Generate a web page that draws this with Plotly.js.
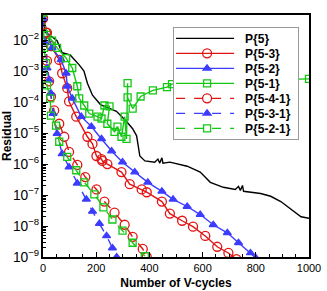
<!DOCTYPE html>
<html><head><meta charset="utf-8">
<script src="https://cdn.plot.ly/plotly-3.0.1.min.js"></script>
<style>html,body{margin:0;padding:0;background:#fff}#chart{width:327px;height:291px}</style>
</head><body><div id="chart"></div>
<script>
// values are log10(residual)
const p5_x = [0, 8, 22, 53, 72, 102, 136, 154, 167, 186, 216, 276, 314, 337, 352, 364, 383, 420, 432, 439, 447, 451, 477, 542, 591, 629, 678, 723, 735, 742, 750, 754, 818, 856, 894, 932, 970, 1000];
const p5_y = [-1.25, -1.75, -1.82, -2.02, -2.41, -2.48, -2.80, -3.0, -3.39, -3.78, -4.08, -4.30, -4.63, -4.86, -5.09, -5.74, -5.90, -5.94, -5.84, -5.97, -5.80, -5.97, -5.94, -6.07, -6.26, -6.59, -6.75, -6.82, -6.72, -6.85, -6.69, -6.88, -6.95, -7.04, -7.21, -7.47, -7.70, -7.75];

const p53_x = [0, 15, 30, 61, 72, 91, 98, 125, 167, 186, 201, 220, 223, 242, 295, 326, 371, 390, 447, 477, 523, 564, 610, 655, 697, 727];
const p53_y = [-1.3, -1.76, -2.19, -2.64, -3.07, -3.55, -3.98, -4.47, -5.12, -5.35, -5.74, -5.84, -5.90, -6.0, -6.26, -6.65, -6.82, -6.91, -7.21, -7.60, -7.83, -8.02, -8.32, -8.67, -8.87, -9.07];

const p52_x = [0, 34, 68, 87, 91, 110, 144, 182, 220, 258, 299, 345, 394, 447, 489, 542, 591, 640, 693, 735, 780, 800];
const p52_y = [-1.3, -2.25, -2.64, -3.07, -3.49, -3.88, -4.47, -4.79, -5.19, -5.58, -5.94, -6.26, -6.59, -6.88, -7.14, -7.37, -7.63, -7.96, -8.22, -8.54, -8.87, -9.03];

const p51_x = [0, 15, 34, 53, 87, 110, 129, 136, 155, 174, 205, 220, 231, 250, 242, 269, 280, 295, 307, 314, 318, 318, 337, 367, 413, 466, 485, 600, 750, 900, 1000];
const p51_y = [-1.11, -1.83, -2.02, -2.25, -2.58, -2.90, -3.49, -3.88, -4.11, -4.37, -4.47, -4.53, -4.11, -4.14, -4.70, -4.96, -4.79, -5.12, -4.47, -5.19, -3.39, -3.85, -4.21, -3.82, -3.62, -3.52, -3.42, -3.36, -3.3, -3.27, -3.25];

const p541_x = [0, 11, 15, 23, 30, 42, 61, 80, 98, 129, 159, 201, 231, 269, 307, 337, 375, 390];
const p541_y = [-1.3, -1.76, -2.67, -3.33, -3.82, -4.27, -4.70, -5.12, -5.61, -6.03, -6.42, -6.82, -7.21, -7.57, -7.96, -8.35, -8.74, -9.0];

const p531_x = [0, 8, 15, 23, 30, 38, 53, 72, 98, 129, 163, 186, 212, 239, 261, 277];
const p531_y = [-1.3, -2.09, -2.90, -3.29, -3.72, -4.37, -5.02, -5.67, -6.10, -6.62, -7.14, -7.53, -7.92, -8.32, -8.71, -9.0];

const p521_x = [0, 4, 11, 15, 27, 30, 49, 61, 91, 125, 155, 193, 227, 261, 299, 337, 383];
const p521_y = [-1.11, -2.25, -2.74, -3.46, -3.88, -4.44, -4.76, -5.28, -5.77, -6.20, -6.59, -6.98, -7.40, -7.79, -8.15, -8.54, -8.97];

const names = ['P{5}', 'P{5-3}', 'P{5-2}', 'P{5-1}', 'P{5-4-1}', 'P{5-3-1}', 'P{5-2-1}'];
const xTicks = [0, 200, 400, 600, 800, 1000];

const RED = 'rgb(225,20,20)', BLUE = 'rgb(60,60,255)', GREEN = 'rgb(20,200,20)';
const toVal = a => a.map(v => Math.pow(10, v));

function tr(x, y, name, color, dash, sym) {
  const t = {x: x, y: toVal(y), name: '<b>' + name + '</b>', type: 'scatter',
    line: {color: color, width: 1.4, dash: dash}};
  if (sym) {
    t.mode = 'lines+markers';
    t.marker = {symbol: sym, size: sym === 'circle-open' ? 9 : 7, color: color,
      line: {color: color, width: 1.3}};
  } else t.mode = 'lines';
  return t;
}

const data = [
  tr(p5_x, p5_y, names[0], '#000', 'solid', null),
  tr(p53_x, p53_y, names[1], RED, 'solid', 'circle-open'),
  tr(p52_x, p52_y, names[2], BLUE, 'solid', 'triangle-up'),
  tr(p51_x, p51_y, names[3], GREEN, 'solid', 'square-open'),
  tr(p541_x, p541_y, names[4], RED, 'dash', 'circle-open'),
  tr(p531_x, p531_y, names[5], BLUE, 'dash', 'triangle-up'),
  tr(p521_x, p521_y, names[6], GREEN, 'dash', 'square-open')
];

const layout = {
  width: 327, height: 291,
  margin: {l: 43, r: 18, t: 15, b: 34},
  paper_bgcolor: '#fff', plot_bgcolor: '#fff',
  font: {family: 'Arial, Liberation Sans, sans-serif', color: '#000', size: 11},
  xaxis: {range: [0, 1000], tickvals: xTicks, ticks: 'inside', ticklen: 5,
    tickcolor: '#000', showline: true, linecolor: '#000', linewidth: 1.6, mirror: true,
    showgrid: false, zeroline: false,
    minor: {ticks: 'inside', ticklen: 3, dtick: 50, tickcolor: '#000', showgrid: false},
    title: {text: '<b>Number of V-cycles</b>', font: {size: 12}, standoff: 6}},
  yaxis: {type: 'log', range: [-9, -1.19], dtick: 1, exponentformat: 'power', ticks: 'inside', ticklen: 5,
    tickcolor: '#000', showline: true, linecolor: '#000', linewidth: 1.6, mirror: true,
    showgrid: false, zeroline: false,
    minor: {ticks: 'inside', ticklen: 3, dtick: 'D1', tickcolor: '#000', showgrid: false},
    title: {text: '<b>Residual</b>', font: {size: 12}, standoff: 6}},
  legend: {x: 0.489, y: 0.951, xanchor: 'left', yanchor: 'top', bgcolor: '#fff',
    bordercolor: '#999', borderwidth: 1, font: {size: 12, family: 'Arial, Liberation Sans, sans-serif'},
    tracegroupgap: 0},
  showlegend: true
};

Plotly.newPlot('chart', data, layout, {staticPlot: true, displayModeBar: false}).then(function () {
  // compact the legend to match the reference (15px rows, longer line samples)
  const leg = document.querySelector('.legend');
  if (!leg) return;
  const items = leg.querySelectorAll('.traces');
  const ROW = 15, TEXTX = 71;
  let maxW = 0, y0 = null;
  items.forEach(function (g, i) {
    const m = /translate\(\s*([-\d.]+)[ ,]+([-\d.]+)\s*\)/.exec(g.getAttribute('transform') || '');
    const tx = m ? parseFloat(m[1]) : 0, ty = m ? parseFloat(m[2]) : 0;
    if (y0 === null) y0 = ty - 4;
    g.setAttribute('transform', 'translate(' + tx + ',' + (y0 + ROW * i) + ')');
    g.querySelectorAll('.legendlines path').forEach(function (p) { p.setAttribute('d', 'M2,0h58'); });
    g.querySelectorAll('.legendpoints path').forEach(function (p) { p.setAttribute('transform', 'translate(33,0)'); });
    const t = g.querySelector('text.legendtext');
    if (t) {
      t.setAttribute('x', TEXTX);
      t.querySelectorAll('tspan[x]').forEach(function (s) { s.setAttribute('x', TEXTX); });
      maxW = Math.max(maxW, t.getBBox().width);
    }
  });
  const W = TEXTX + maxW + 8, H = y0 + ROW * (items.length - 1) + 11;
  leg.querySelectorAll('rect.bg').forEach(function (r) { r.setAttribute('width', W); r.setAttribute('height', H); });
  leg.querySelectorAll('clipPath rect').forEach(function (r) { r.setAttribute('width', W); r.setAttribute('height', H); });
  document.querySelectorAll('defs clipPath[id*="legend"] rect').forEach(function (r) { r.setAttribute('width', W); r.setAttribute('height', H); });
});
</script></body></html>
